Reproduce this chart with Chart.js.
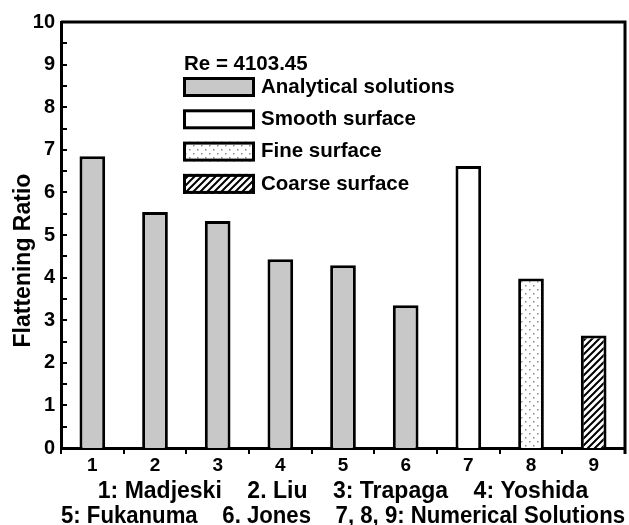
<!DOCTYPE html>
<html>
<head>
<meta charset="utf-8">
<script src="https://cdn.jsdelivr.net/npm/chart.js@4.4.0/dist/chart.umd.min.js"></script>
<style>
    html, body { margin: 0; padding: 0; background: #fff; }
    #wrap { width: 629px; height: 525px; }
</style>
</head>
<body>
<div id="wrap"><canvas id="myChart"></canvas></div>
<script>
const categories = ['1', '2', '3', '4', '5', '6', '7', '8', '9'];
const flatteningRatios = [6.85, 5.54, 5.33, 4.43, 4.29, 3.35, 6.62, 3.98, 2.64];
const barKinds = ['analytical', 'analytical', 'analytical', 'analytical', 'analytical', 'analytical', 'smooth', 'fine', 'coarse'];
const legendKinds = ['analytical', 'smooth', 'fine', 'coarse'];
const legendLabels = ['Analytical solutions', 'Smooth surface', 'Fine surface', 'Coarse surface'];
const reynoldsLabel = 'Re = 4103.45';
const referenceLines = [
    '1: Madjeski    2. Liu    3: Trapaga    4: Yoshida',
    '5: Fukanuma    6. Jones    7, 8, 9: Numerical Solutions'
];

const FONT = "'Liberation Sans', Arial, sans-serif";

// fills: plain grey, white, dotted, hatched
function makeFill(kind) {
    if (kind === 'analytical') return '#c8c8c8';
    if (kind === 'smooth') return '#ffffff';
    const c = document.createElement('canvas');
    const g = c.getContext('2d');
    if (kind === 'fine') {
        c.width = 8; c.height = 8;
        g.fillStyle = '#fff';
        g.fillRect(0, 0, 8, 8);
        g.fillStyle = '#8a8a8a';
        g.fillRect(1, 1, 1.5, 1.5);
        g.fillRect(5, 5, 1.5, 1.5);
    } else {
        c.width = 7; c.height = 7;
        g.fillStyle = '#fff';
        g.fillRect(0, 0, 7, 7);
        g.strokeStyle = '#000';
        g.lineWidth = 2;
        g.beginPath();
        g.moveTo(-1, 8); g.lineTo(8, -1);
        g.moveTo(-4, 4); g.lineTo(4, -4);
        g.moveTo(3, 11); g.lineTo(11, 3);
        g.stroke();
    }
    return g.createPattern(c, 'repeat');
}

const fills = {};
legendKinds.forEach(k => fills[k] = makeFill(k));

// legend drawn inside the plot, plus frame and inner ticks
const plotDecor = {
    id: 'plotDecor',
    afterDatasetsDraw(chart) {
        const ctx = chart.ctx;
        const area = chart.chartArea;
        const yScale = chart.scales.y;
        ctx.save();

        // top and right frame
        ctx.strokeStyle = '#000';
        ctx.lineWidth = 3;
        ctx.beginPath();
        ctx.moveTo(area.left, area.top);
        ctx.lineTo(area.right, area.top);
        ctx.lineTo(area.right, area.bottom + 6);
        ctx.stroke();

        // inward ticks on y axis every 0.5
        ctx.lineWidth = 2;
        ctx.beginPath();
        for (let v = 0.5; v < 10; v += 0.5) {
            const py = Math.round(yScale.getPixelForValue(v));
            ctx.moveTo(area.left, py);
            ctx.lineTo(area.left + 6, py);
        }
        ctx.stroke();

        // legend
        const lx = area.left + 122;
        const ly = area.top + 55;
        ctx.fillStyle = '#000';
        ctx.font = 'bold 20.5px ' + FONT;
        ctx.textBaseline = 'middle';
        ctx.textAlign = 'left';
        ctx.fillText(reynoldsLabel, lx + 1, ly - 13);
        legendKinds.forEach((k, i) => {
            const top = ly + i * 32.3;
            ctx.fillStyle = fills[k];
            ctx.fillRect(lx, top, 72, 20);
            ctx.lineWidth = 3;
            ctx.strokeStyle = '#000';
            ctx.strokeRect(lx + 1.5, top + 1.5, 69, 17);
            ctx.fillStyle = '#000';
            ctx.fillText(legendLabels[i], lx + 78, top + 10);
        });
        ctx.restore();
    }
};

new Chart(document.getElementById('myChart'), {
    type: 'bar',
    data: {
        labels: categories,
        datasets: [{
            data: flatteningRatios,
            backgroundColor: barKinds.map(k => fills[k]),
            borderColor: '#000',
            borderWidth: 3,
            borderSkipped: 'bottom',
            barPercentage: 0.41,
            categoryPercentage: 1
        }]
    },
    options: {
        responsive: true,
        maintainAspectRatio: false,
        animation: false,
        layout: { padding: { top: 22, right: 4, left: 0, bottom: 0 } },
        plugins: {
            legend: { display: false },
            tooltip: { enabled: false }
        },
        scales: {
            x: {
                offset: true,
                grid: {
                    display: true,
                    drawOnChartArea: false,
                    drawTicks: true,
                    tickLength: 6,
                    color: '#000',
                    lineWidth: 2,
                    offset: true
                },
                border: { display: true, color: '#000', width: 3 },
                ticks: {
                    color: '#000',
                    padding: 0,
                    maxRotation: 0,
                    font: { family: FONT, size: 19, weight: 'bold' }
                },
                title: {
                    display: true,
                    text: referenceLines,
                    color: '#000',
                    padding: { top: 0, bottom: -4 },
                    font: { family: FONT, size: 23, weight: 'bold', lineHeight: '25px' }
                },
                afterFit(scale) { scale.height = 77; }
            },
            y: {
                min: 0,
                max: 10,
                grid: { display: false, drawTicks: false },
                border: { display: true, color: '#000', width: 3 },
                ticks: {
                    stepSize: 1,
                    color: '#000',
                    padding: 6,
                    font: { family: FONT, size: 20, weight: 'bold' }
                },
                title: {
                    display: true,
                    text: 'Flattening Ratio        ',
                    color: '#000',
                    padding: { top: 12, bottom: 0 },
                    font: { family: FONT, size: 23, weight: 'bold', lineHeight: '24px' }
                },
                afterFit(scale) { scale.width = 61; }
            }
        }
    },
    plugins: [plotDecor]
});
</script>
</body>
</html>
